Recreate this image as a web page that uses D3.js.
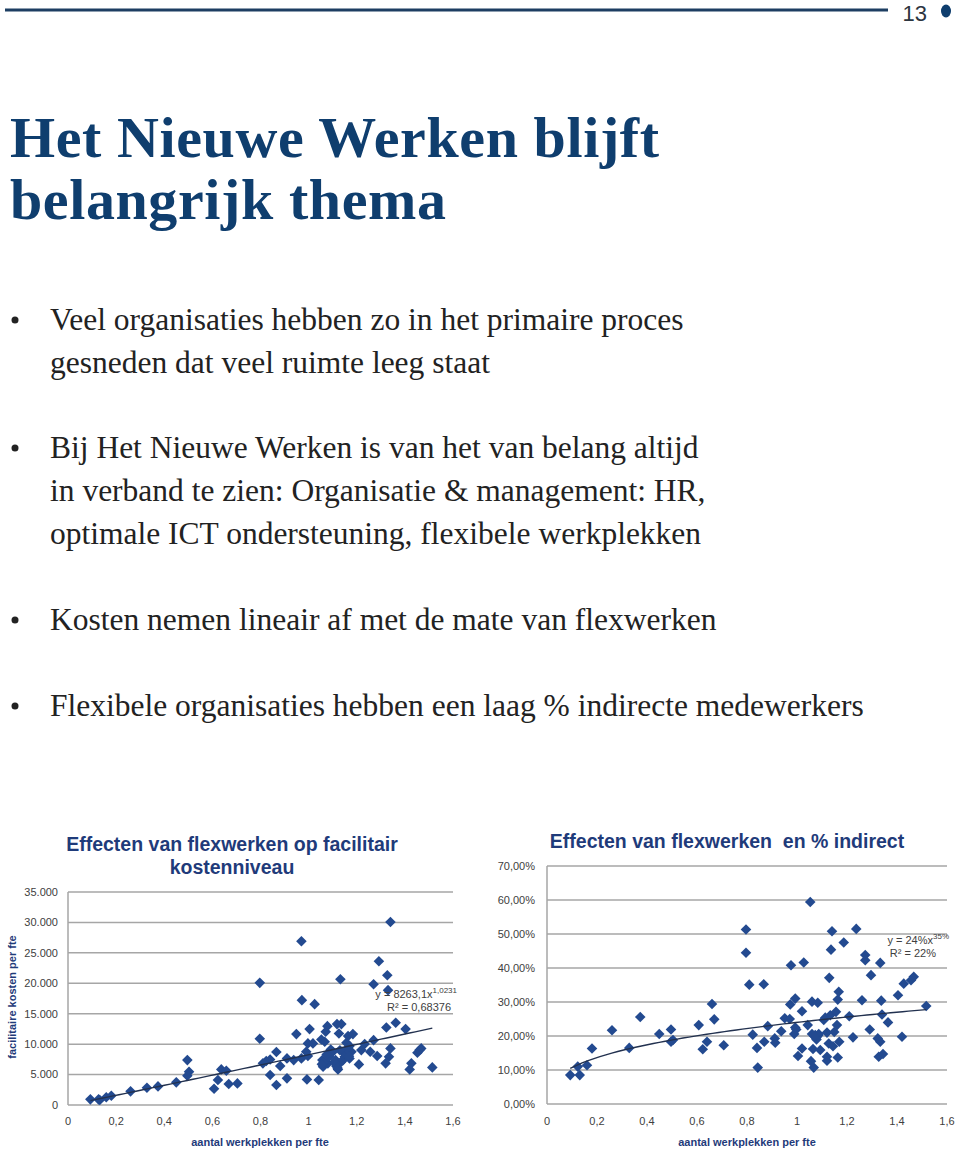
<!DOCTYPE html>
<html>
<head>
<meta charset="utf-8">
<script src="https://cdn.jsdelivr.net/npm/d3@7"></script>
<style>
  body { margin: 0; background: #fff; }
  svg { display: block; }
  text { white-space: pre; }
</style>
</head>
<body>
<svg width="960" height="1158"></svg>
<script>
// page text
const titleLines = ["Het Nieuwe Werken blijft", "belangrijk thema"];
const bullets = [
    ["Veel organisaties hebben zo in het primaire proces", "gesneden dat veel ruimte leeg staat"],
    ["Bij Het Nieuwe Werken is van het van belang altijd", "in verband te zien: Organisatie & management: HR,", "optimale ICT ondersteuning, flexibele werkplekken"],
    ["Kosten nemen lineair af met de mate van flexwerken"],
    ["Flexibele organisaties hebben een laag % indirecte medewerkers"]
];

// chart 1: facilitaire kosten per fte vs aantal werkplekken per fte
const costX = [0.093, 0.127, 0.132, 0.159, 0.18, 0.26, 0.328, 0.374, 0.45, 0.496, 0.496, 0.503,
    0.607, 0.623, 0.637, 0.658, 0.668, 0.704, 0.797, 0.797, 0.81, 0.824, 0.84, 0.84, 0.866, 0.866,
    0.882, 0.91, 0.91, 0.938, 0.949, 0.97, 0.972, 0.97, 0.99, 0.993, 0.997, 0.997, 1.004, 1.018,
    1.025, 1.042, 1.053, 1.057, 1.06, 1.067, 1.071, 1.078, 1.08, 1.085, 1.092, 1.101, 1.112, 1.115,
    1.118, 1.122, 1.126, 1.132, 1.136, 1.136, 1.143, 1.15, 1.157, 1.157, 1.164, 1.164, 1.17, 1.17,
    1.178, 1.184, 1.209, 1.219, 1.233, 1.256, 1.27, 1.27, 1.285, 1.292, 1.32, 1.323, 1.327, 1.33,
    1.334, 1.34, 1.34, 1.362, 1.403, 1.42, 1.427, 1.452, 1.461, 1.468, 1.514,
    1.063, 1.09, 1.108, 1.148, 1.16, 1.12, 1.075, 1.13, 1.055, 1.168];
const costY = [930, 930, 820, 1260, 1530, 2240, 2840, 3060, 3720, 7380, 4810, 5470,
    2680, 4100, 5850, 5630, 3450, 3550, 20070, 10880, 6840, 7220, 7490, 4920, 8700, 3280,
    6400, 7660, 4380, 7380, 11650, 26900, 17230, 7660, 8750, 4210, 8040, 10120, 12470, 10120,
    16570, 4100, 10770, 7380, 6290, 10390, 12030, 12960, 6840, 7930, 9130, 8750, 7380, 6400,
    13290, 5850, 11760, 20670, 13290, 7110, 7380, 7930, 10230, 8750, 8200, 11320, 9680, 7660,
    8750, 11650, 6670, 9020, 10010, 8750, 19850, 10660, 8040, 23630, 6840, 12740, 21330, 18870,
    7930, 30080, 9300, 13510, 12470, 5850, 6840, 8590, 9020, 9300, 6180,
    7000, 8600, 7000, 8500, 9200, 6100, 8300, 9000, 6700, 8000];

// chart 2: % indirect vs aantal werkplekken per fte
const indirX = [0.093, 0.123, 0.131, 0.16, 0.18, 0.26, 0.329, 0.373, 0.449, 0.496, 0.496, 0.504,
    0.607, 0.623, 0.64, 0.66, 0.669, 0.707, 0.796, 0.796, 0.809, 0.823, 0.84, 0.843, 0.867, 0.869,
    0.883, 0.911, 0.913, 0.937, 0.951, 0.971, 0.973, 0.976, 0.993, 0.993, 0.989, 0.997, 1.004, 1.02,
    1.02, 1.027, 1.043, 1.053, 1.056, 1.06, 1.06, 1.064, 1.067, 1.073, 1.08, 1.083, 1.087, 1.093,
    1.107, 1.113, 1.12, 1.12, 1.12, 1.127, 1.129, 1.133, 1.136, 1.14, 1.144, 1.149, 1.156, 1.16,
    1.163, 1.167, 1.163, 1.169, 1.187, 1.209, 1.224, 1.237, 1.26, 1.273, 1.273, 1.291, 1.296, 1.323,
    1.327, 1.333, 1.333, 1.337, 1.34, 1.344, 1.364, 1.404, 1.42, 1.427, 1.456, 1.467, 1.517,
    1.076, 1.085, 1.078, 1.069];
const indirY = [8.5, 11.0, 8.5, 11.4, 16.3, 21.7, 16.5, 25.6, 20.6, 21.9, 18.3, 18.8,
    23.2, 16.1, 18.3, 29.4, 24.9, 17.3, 51.3, 44.5, 35.1, 20.4, 16.5, 10.7, 35.2, 18.3,
    22.9, 19.3, 18.0, 21.4, 25.2, 25.0, 29.3, 40.8, 31.0, 22.5, 20.6, 21.9, 14.1, 27.3,
    16.3, 41.6, 23.2, 59.4, 12.6, 30.1, 20.6, 16.2, 10.7, 20.3, 19.8, 29.8, 20.6, 15.9,
    24.7, 25.4, 13.9, 12.7, 21.0, 17.8, 37.1, 26.1, 45.4, 50.8, 17.0, 21.2, 27.1, 23.2,
    30.7, 33.0, 13.7, 18.3, 47.5, 25.8, 19.6, 51.5, 30.5, 43.8, 42.3, 21.9, 37.9, 19.3,
    13.9, 41.5, 18.3, 30.4, 26.3, 14.7, 24.0, 32.0, 19.8, 35.4, 36.4, 37.4, 28.8,
    19.5, 20.2, 19.0, 20.0];

// power trend lines shown in the charts
const costTrend = { a: 8263.1, b: 1.0231 };
const indirTrend = { a: 0.24, b: 0.35 };

const xTicks = [0, 0.2, 0.4, 0.6, 0.8, 1, 1.2, 1.4, 1.6];
const costTicks = [0, 5000, 10000, 15000, 20000, 25000, 30000, 35000];
const indirTicks = [0, 0.1, 0.2, 0.3, 0.4, 0.5, 0.6, 0.7];

const nl = d3.formatLocale({ decimal: ",", thousands: ".", grouping: [3], currency: ["€", ""] });

const navy = "#0f3e6e",
    markColor = "#234a90",
    axisFont = "'Liberation Sans', Arial, sans-serif";

let svg = d3.select("svg");

// header rule, page number
svg.append("line")
    .attr("x1", 5).attr("x2", 888).attr("y1", 10).attr("y2", 10)
    .attr("stroke", "#1d3e62").attr("stroke-width", 3);
svg.append("text")
    .attr("x", 927).attr("y", 21)
    .attr("text-anchor", "end")
    .attr("font-family", "'Liberation Sans Narrow', 'Liberation Sans', sans-serif")
    .attr("font-size", 22)
    .attr("fill", "#2c3540")
    .text("13");
svg.append("ellipse")
    .attr("cx", 946).attr("cy", 11).attr("rx", 5).attr("ry", 6.5)
    .attr("fill", navy);

// slide title
svg.append("g").selectAll("text")
    .data(titleLines)
    .enter().append("text")
    .attr("x", 10)
    .attr("y", (d, i) => 157 + i * 62)
    .attr("font-family", "'Liberation Serif', serif")
    .attr("font-weight", "bold")
    .attr("font-size", 58)
    .attr("letter-spacing", 0.6)
    .attr("fill", navy)
    .text(d => d);

// bullets
let bulletTop = [330, 458, 630, 716];
bullets.forEach(function(lines, i) {
    let g = svg.append("g");
    g.append("circle")
        .attr("cx", 15).attr("cy", bulletTop[i] - 10).attr("r", 3.5)
        .attr("fill", "#222");
    g.selectAll("text")
        .data(lines)
        .enter().append("text")
        .attr("x", 50)
        .attr("y", (d, j) => bulletTop[i] + j * 43)
        .attr("font-family", "'Liberation Serif', serif")
        .attr("font-size", 31.5)
        .attr("fill", "#222")
        .text(d => d);
});

function drawScatter(opt) {
    let g = svg.append("g");
    let x = d3.scaleLinear().domain([0, 1.6]).range(opt.xRange),
        y = d3.scaleLinear().domain(opt.yDomain).range(opt.yRange);

    // gridlines
    g.append("g").selectAll("line")
        .data(opt.yTicks)
        .enter().append("line")
        .attr("x1", opt.xRange[0]).attr("x2", opt.xRange[1])
        .attr("y1", d => y(d)).attr("y2", d => y(d))
        .attr("stroke", "#a6a6a6").attr("stroke-width", 1.5);
    g.append("line")
        .attr("x1", opt.xRange[0]).attr("x2", opt.xRange[0])
        .attr("y1", opt.yRange[0]).attr("y2", opt.yRange[1])
        .attr("stroke", "#a6a6a6").attr("stroke-width", 1.5);

    // y tick labels
    g.append("g").selectAll("text")
        .data(opt.yTicks)
        .enter().append("text")
        .attr("x", opt.yLabelX)
        .attr("y", d => y(d))
        .attr("dy", "0.35em")
        .attr("text-anchor", "end")
        .attr("font-family", axisFont).attr("font-size", 11)
        .attr("fill", "#404040")
        .text(opt.yFormat);

    // x tick labels
    g.append("g").selectAll("text")
        .data(xTicks)
        .enter().append("text")
        .attr("x", d => x(d))
        .attr("y", 1125)
        .attr("text-anchor", "middle")
        .attr("font-family", axisFont).attr("font-size", 11)
        .attr("fill", "#404040")
        .text(nl.format(""));

    // markers
    let pts = opt.xs.map((d, i) => [d, opt.ys[i]]);
    let diamond = d3.symbol().type(d3.symbolSquare).size(56);
    g.append("g").selectAll("path")
        .data(pts)
        .enter().append("path")
        .attr("d", diamond)
        .attr("transform", d => `translate(${x(d[0])},${y(d[1])}) rotate(45)`)
        .attr("fill", markColor);

    // trend line
    let lo = d3.min(opt.xs), hi = d3.max(opt.xs);
    let trend = d3.range(lo, hi, (hi - lo) / 60).concat([hi])
        .map(v => [v, opt.trend.a * Math.pow(v, opt.trend.b)]);
    g.append("path")
        .datum(trend)
        .attr("fill", "none")
        .attr("stroke", "#22314f").attr("stroke-width", 1.4)
        .attr("d", d3.line().x(d => x(d[0])).y(d => y(d[1])));

    // titles
    g.append("g").selectAll("text")
        .data(opt.title)
        .enter().append("text")
        .attr("x", opt.titleX)
        .attr("y", (d, i) => opt.titleY + i * 23)
        .attr("text-anchor", "middle")
        .attr("font-family", axisFont).attr("font-weight", "bold").attr("font-size", 19.5)
        .attr("fill", "#1f3b7a")
        .text(d => d);
    g.append("text")
        .attr("x", opt.xTitleX).attr("y", 1146)
        .attr("text-anchor", "middle")
        .attr("font-family", axisFont).attr("font-weight", "bold").attr("font-size", 11)
        .attr("fill", "#1f3b7a")
        .text("aantal werkplekken per fte");

    // equation
    let eq = g.append("g")
        .attr("font-family", axisFont).attr("font-size", 11)
        .attr("fill", "#404040");
    let t1 = eq.append("text").attr("x", opt.eqX).attr("y", opt.eqY).attr("text-anchor", "end");
    t1.append("tspan").text(opt.eq[0]);
    t1.append("tspan").attr("dy", -5).attr("font-size", 8).text(opt.eq[1]);
    eq.append("text").attr("x", opt.eqX2).attr("y", opt.eqY + 13).attr("text-anchor", "end")
        .text(opt.eq[2]);

    return g;
}

drawScatter({
    xs: costX, ys: costY,
    xRange: [68, 453], yDomain: [0, 35000], yRange: [1105, 892],
    yTicks: costTicks, yLabelX: 58, yFormat: nl.format(",d"),
    trend: costTrend,
    title: ["Effecten van flexwerken op facilitair", "kostenniveau"],
    titleX: 232, titleY: 851, xTitleX: 260,
    eq: ["y = 8263,1x", "1,0231", "R² = 0,68376"], eqX: 457, eqX2: 451, eqY: 998
});

drawScatter({
    xs: indirX, ys: indirY.map(v => v / 100),
    xRange: [547, 947], yDomain: [0, 0.7], yRange: [1104, 866],
    yTicks: indirTicks, yLabelX: 535, yFormat: nl.format(".2%"),
    trend: indirTrend,
    title: ["Effecten van flexwerken  en % indirect"],
    titleX: 727, titleY: 848, xTitleX: 747,
    eq: ["y = 24%x", "35%", "R² = 22%"], eqX: 949, eqX2: 936, eqY: 944
});

// y axis title of chart 1
svg.append("text")
    .attr("transform", "translate(16,997) rotate(-90)")
    .attr("text-anchor", "middle")
    .attr("font-family", axisFont).attr("font-weight", "bold").attr("font-size", 11)
    .attr("fill", "#1f3b7a")
    .text("facilitaire kosten per fte");
</script>
</body>
</html>
